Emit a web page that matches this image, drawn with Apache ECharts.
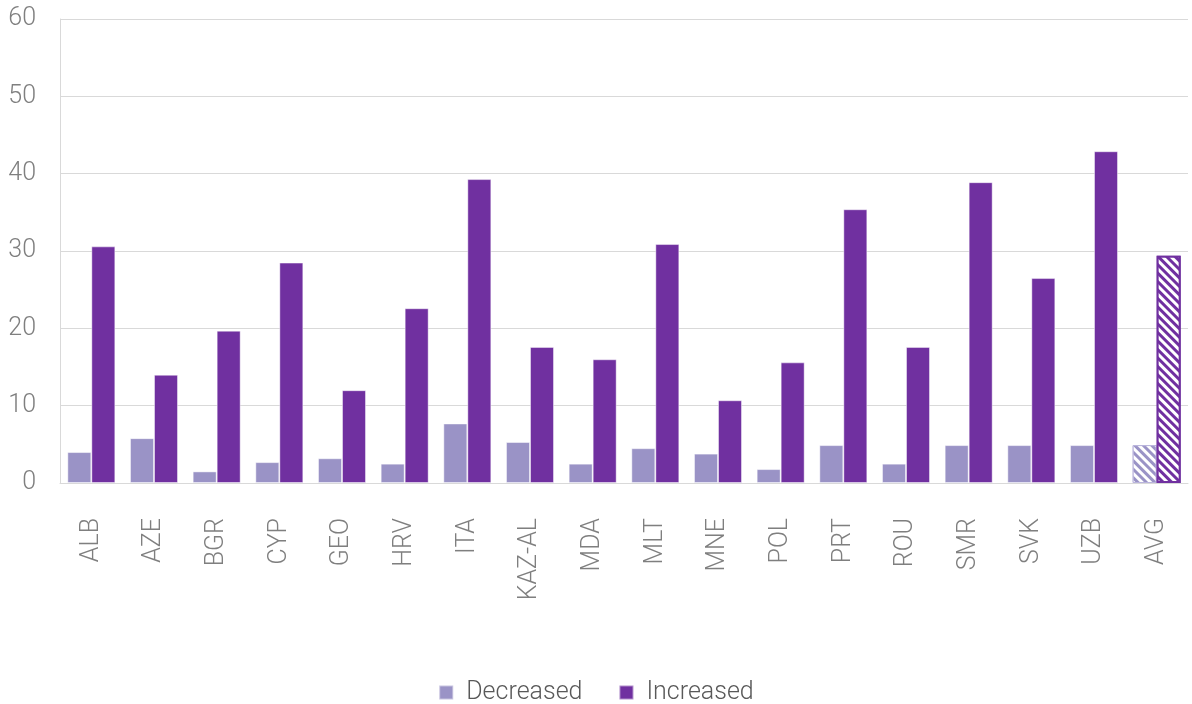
<!DOCTYPE html>
<html>
<head>
<meta charset="utf-8">
<script src="https://cdn.jsdelivr.net/npm/echarts@6/dist/echarts.min.js"></script>
<style>
  html, body { margin: 0; padding: 0; background: #fff; }
  #chart { width: 1192px; height: 704px; }
</style>
</head>
<body>
<div id="chart"></div>
<script>
// Share of respondents whose level decreased / increased, by country
const categories = ['ALB', 'AZE', 'BGR', 'CYP', 'GEO', 'HRV', 'ITA', 'KAZ-AL', 'MDA', 'MLT',
                    'MNE', 'POL', 'PRT', 'ROU', 'SMR', 'SVK', 'UZB', 'AVG'];
const decreased = [4.0, 5.8, 1.5, 2.7, 3.2, 2.5, 7.7, 5.3, 2.5, 4.5,
                   3.8, 1.8, 4.9, 2.5, 4.9, 4.9, 4.9, 4.9];
const increased = [30.6, 14.0, 19.7, 28.5, 12.0, 22.6, 39.3, 17.6, 16.0, 30.9,
                   10.7, 15.6, 35.4, 17.6, 38.9, 26.5, 42.9, 29.4];
const yTicks = { min: 0, max: 60, interval: 10 };

const DEC_COLOR = '#9a93c6';
const INC_COLOR = '#7030a0';
const avgIndex = categories.indexOf('AVG');

// diagonal hatching used for the average bars
const hatch = {
  symbol: 'rect',
  symbolSize: 1,
  dashArrayX: [1, 0],
  dashArrayY: [3, 3],
  rotation: Math.PI / 4,
  color: '#ffffff'
};

function seriesData(values, color, avgBorder, avgBorderWidth) {
  return values.map((v, i) => {
    if (i !== avgIndex) return v;
    return {
      value: v,
      itemStyle: {
        color: color,
        borderColor: avgBorder,
        borderWidth: avgBorderWidth,
        decal: hatch
      }
    };
  });
}

const chart = echarts.init(document.getElementById('chart'), null, { renderer: 'canvas' });
const font = 'Roboto';

chart.setOption({
  backgroundColor: '#ffffff',
  animation: false,
  grid: { left: 60, right: 4, top: 19, bottom: 221, containLabel: false },
  legend: {
    top: 675,
    left: 'center',
    itemWidth: 14,
    itemHeight: 14,
    itemGap: 36,
    icon: 'rect',
    textStyle: { fontFamily: font, fontWeight: 300, fontSize: 25, color: '#595959', padding: [0, 0, 0, 8] },
    data: ['Decreased', 'Increased']
  },
  xAxis: {
    type: 'category',
    data: categories,
    axisLine: { show: true, lineStyle: { color: '#d9d9d9', width: 1 } },
    axisTick: { show: false },
    axisLabel: {
      rotate: 90,
      margin: 35,
      interval: 0,
      fontFamily: font,
      fontWeight: 300,
      fontSize: 25,
      color: '#7f7f7f'
    }
  },
  yAxis: {
    type: 'value',
    min: yTicks.min,
    max: yTicks.max,
    interval: yTicks.interval,
    axisLine: { show: true, lineStyle: { color: '#d9d9d9', width: 1 } },
    axisTick: { show: false },
    splitLine: { show: true, lineStyle: { color: '#d9d9d9', width: 1 } },
    axisLabel: {
      margin: 24,
      fontFamily: font,
      fontWeight: 300,
      fontSize: 25,
      color: '#7f7f7f'
    }
  },
  series: [
    {
      name: 'Decreased',
      type: 'bar',
      barWidth: 24,
      barGap: '0%',
      itemStyle: { color: DEC_COLOR, borderColor: 'rgba(255,255,255,0.45)', borderWidth: 1 },
      data: seriesData(decreased, DEC_COLOR, '#b9b4dc', 1)
    },
    {
      name: 'Increased',
      type: 'bar',
      barWidth: 24,
      barGap: '0%',
      itemStyle: { color: INC_COLOR, borderColor: 'rgba(255,255,255,0.45)', borderWidth: 1 },
      data: seriesData(increased, INC_COLOR, INC_COLOR, 2)
    }
  ]
});
</script>
</body>
</html>
